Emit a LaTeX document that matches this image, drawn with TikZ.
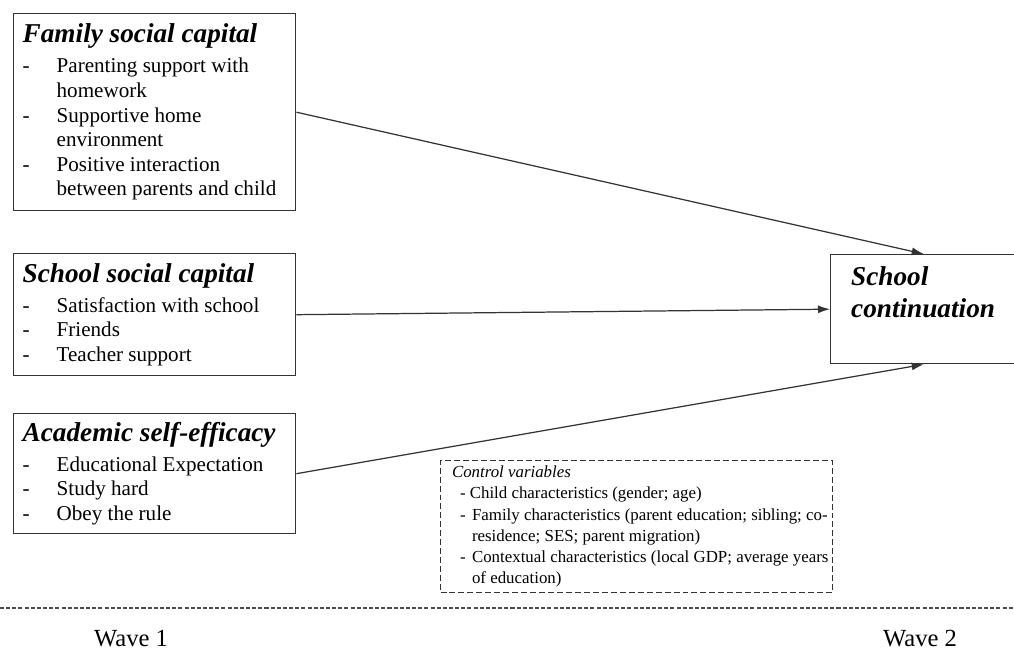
\documentclass[tikz,border=0pt]{standalone}
\usepackage{fontspec}
\setmainfont{Liberation Serif}
\usetikzlibrary{arrows.meta}

\newcommand{\captitle}[1]{{\fontsize{15.5}{18}\selectfont\bfseries\itshape #1}}
\newcommand{\capitem}[1]{\makebox[0.68cm][l]{-}#1}
\newcommand{\capmore}{\hspace*{0.68cm}}
\newcommand{\ctrlitem}[1]{\hspace*{0.16cm}\makebox[0.24cm][l]{-}\mbox{#1}}
\newcommand{\ctrlmore}[1]{\hspace*{0.40cm}\mbox{#1}}

\tikzset{
  capbox/.style={draw=black!80, line width=0.8pt, anchor=north west,
    inner xsep=0.18cm, inner ysep=0pt, text width=5.28cm,
    minimum width=5.64cm, align=flush left, font=\fontsize{12}{14}\selectfont},
  outbox/.style={draw=black!80, line width=0.8pt, anchor=north west,
    inner xsep=0.41cm, inner ysep=0pt, text width=2.9cm,
    minimum width=3.72cm, minimum height=2.18cm, align=flush left,
    font=\fontsize{15.5}{18.1}\selectfont\bfseries\itshape},
  ctrlbox/.style={draw=black!80, line width=0.6pt, dash pattern=on 3.4pt off 1.7pt,
    anchor=north west, inner xsep=0.12cm, inner ysep=0pt, text width=7.6cm,
    minimum width=7.84cm, minimum height=2.64cm, align=flush left,
    font=\fontsize{9.6}{12}\selectfont},
  wavelabel/.style={anchor=base, font=\fontsize{14}{16}\selectfont},
  pathline/.style={draw=black!80, line width=0.7pt, -{Latex[length=2.4mm,width=1.6mm]}}
}

\begin{document}
\begin{tikzpicture}
\useasboundingbox (0,0) rectangle (20.28,13.14);
\clip (0,0) rectangle (20.28,13.14);

% Wave 1 constructs
\node[capbox, minimum height=3.94cm] (fam) at (0.26,12.88) {%
  \captitle{Family social capital}\\[3pt]
  \capitem{Parenting support with}\\
  \capmore homework\\
  \capitem{Supportive home}\\
  \capmore environment\\
  \capitem{Positive interaction}\\
  \capmore between parents and child};
\node[capbox, minimum height=2.44cm] (sch) at (0.26,8.08) {%
  \captitle{School social capital}\\[3pt]
  \capitem{Satisfaction with school}\\
  \capitem{Friends}\\
  \capitem{Teacher support}};
\node[capbox, minimum height=2.40cm] (aca) at (0.26,4.88) {%
  \captitle{Academic self-efficacy}\\[3pt]
  \capitem{Educational Expectation}\\
  \capitem{Study hard}\\
  \capitem{Obey the rule}};

% Wave 2 outcome
\node[outbox] (out) at (16.6,8.06) {School\\continuation\rule[-0.68cm]{0pt}{0.68cm}};

% Controls
\node[ctrlbox] (ctrl) at (8.8,3.94) {%
  \hspace*{0.11cm}\textit{Control variables}\\
  \hspace*{0.27cm}- Child characteristics (gender; age)\\
  \hspace*{0.11cm}\ctrlitem{Family characteristics (parent education; sibling; co-}\\
  \hspace*{0.11cm}\ctrlmore{residence; SES; parent migration)}\\
  \hspace*{0.11cm}\ctrlitem{Contextual characteristics (local GDP; average years}\\
  \hspace*{0.11cm}\ctrlmore{of education)}};

% Paths
\draw[pathline] (fam.east) -- (out.north);
\draw[pathline] (sch.east) -- (out.west);
\draw[pathline] (aca.east) -- (out.south);

% Waves
\draw[black!70, line width=0.6pt, dash pattern=on 2.3pt off 1.2pt] (0,0.98) -- (20.28,0.98);
\node[wavelabel] (w1) at (2.62,0.2) {Wave 1};
\node[wavelabel] (w2) at (18.4,0.2) {Wave 2};
\end{tikzpicture}
\end{document}
